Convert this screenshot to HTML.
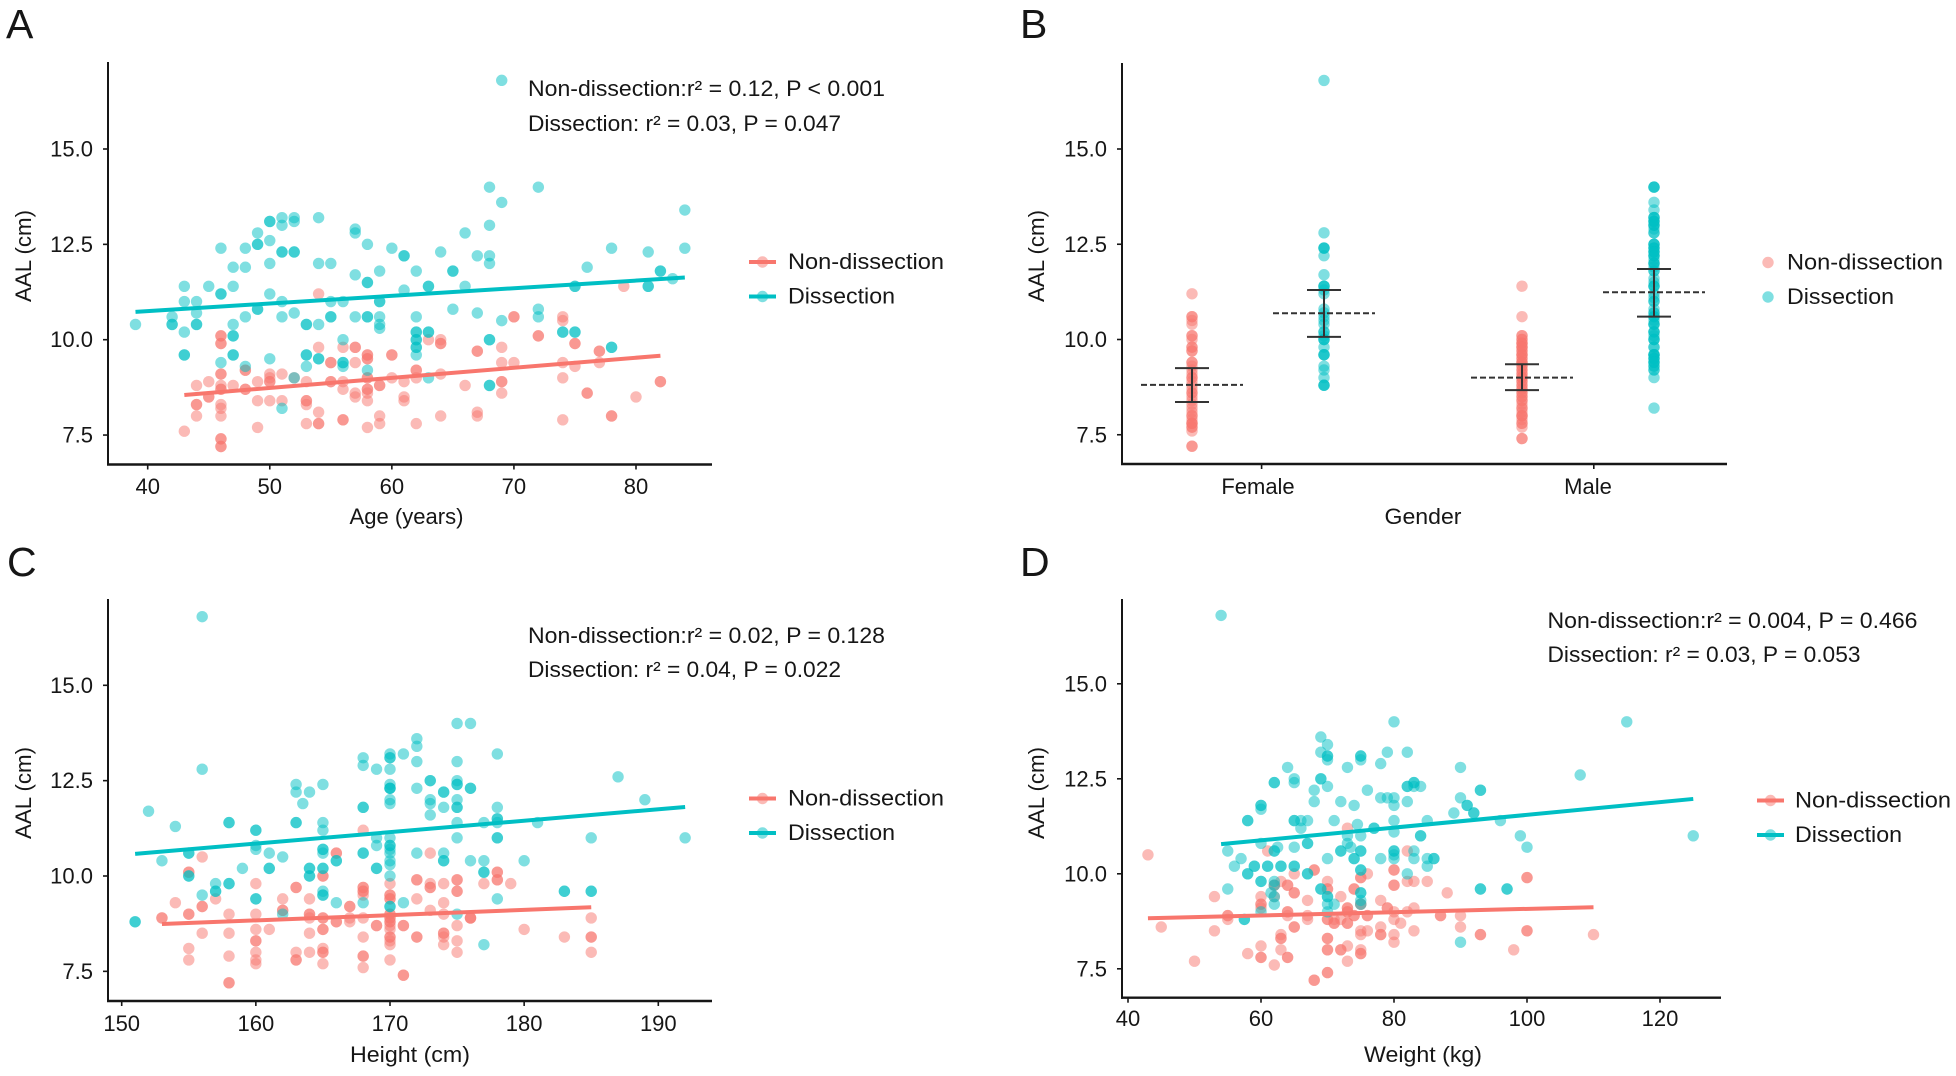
<!DOCTYPE html>
<html lang="en">
<head>
<meta charset="utf-8">
<title>AAL scatter panels</title>
<style>
html,body{margin:0;padding:0;background:#fff;}
svg{display:block;}
text{font-family:"Liberation Sans",sans-serif;fill:#161616;}
</style>
</head>
<body>
<svg id="figure" width="1956" height="1076" viewBox="0 0 1956 1076" xmlns="http://www.w3.org/2000/svg"></svg>
<script>
const seriesNames = ["Non-dissection", "Dissection"];
const yTickLabels = ["7.5", "10.0", "12.5", "15.0"];
const ageTicks = [40, 50, 60, 70, 80];
const heightTicks = [150, 160, 170, 180, 190];
const weightTicks = [40, 60, 80, 100, 120];
const genderCategories = ["Female", "Male"];

const ageNon = [[43,7.6],[44,8.8],[44,8.3],[44,8.3],[44,8],[45,8.9],[45,8.5],[45,8.5],[46,10.1],[46,10.1],[46,9.9],[46,9.9],[46,9.1],[46,9.1],[46,8.8],[46,8.7],[46,8.7],[46,8.3],[46,8.2],[46,8],[46,7.4],[46,7.4],[46,7.2],[46,7.2],[47,8.8],[48,9.2],[48,9.2],[48,8.7],[48,8.7],[49,8.9],[49,8.4],[49,7.7],[50,9.1],[50,9],[50,8.9],[50,8.9],[50,8.4],[51,9.1],[51,8.4],[52,9],[53,8.9],[53,8.4],[53,8.4],[53,8.3],[53,7.8],[54,11.2],[54,9.8],[54,8.1],[54,7.8],[54,7.8],[55,9.4],[55,9.4],[55,8.9],[55,8.9],[56,9.8],[56,8.9],[56,8.7],[56,7.9],[56,7.9],[57,9.8],[57,9.8],[57,9.4],[57,8.6],[57,8.5],[58,9.6],[58,9.6],[58,9.5],[58,9.5],[58,9],[58,9],[58,8.7],[58,8.7],[58,8.6],[58,8.4],[58,7.7],[59,8.8],[59,8.8],[59,8],[59,7.8],[60,9.6],[60,9.6],[60,9],[61,8.9],[61,8.5],[61,8.4],[62,9.2],[62,9.2],[62,9],[62,7.8],[63,10],[64,10],[64,9.9],[64,9.9],[64,9.1],[64,8],[66,8.8],[67,9.7],[67,9.7],[67,8.1],[67,8],[69,9.8],[69,9.4],[69,8.9],[69,8.9],[69,8.6],[70,10.6],[70,10.6],[70,9.4],[72,10.1],[72,10.1],[74,10.6],[74,10.5],[74,9.4],[74,9],[74,7.9],[75,9.9],[75,9.9],[75,9.3],[76,8.6],[76,8.6],[77,9.7],[77,9.7],[77,9.4],[78,8],[78,8],[79,11.4],[80,8.5],[82,8.9],[82,8.9]];
const ageDis = [[39,10.4],[42,10.6],[42,10.4],[42,10.4],[43,11.4],[43,11],[43,10.2],[43,9.6],[43,9.6],[44,11],[44,10.7],[44,10.4],[44,10.4],[45,11.4],[46,12.4],[46,11.2],[46,11.2],[46,9.4],[47,11.9],[47,11.4],[47,10.4],[47,10.1],[47,10.1],[47,9.6],[47,9.6],[48,12.4],[48,11.9],[48,10.6],[48,9.3],[49,12.8],[49,12.5],[49,12.5],[49,10.8],[49,10.8],[50,13.1],[50,13.1],[50,12.6],[50,12],[50,11.2],[50,9.5],[51,13.2],[51,13],[51,12.3],[51,12.3],[51,11],[51,10.6],[51,8.2],[52,13.2],[52,13.1],[52,12.3],[52,12.3],[52,10.7],[52,9],[53,10.4],[53,10.4],[53,9.6],[53,9.6],[53,9.3],[54,13.2],[54,12],[54,10.4],[54,9.5],[54,9.5],[55,12],[55,11],[55,10.6],[55,10.6],[56,11],[56,10],[56,9.4],[56,9.4],[56,9.3],[57,12.9],[57,12.8],[57,11.7],[57,10.6],[58,12.5],[58,11.5],[58,11.5],[58,10.6],[58,10.6],[58,9.2],[59,11.8],[59,11],[59,11],[59,10.6],[59,10.4],[59,10.3],[60,12.4],[61,12.2],[61,12.2],[61,11.3],[62,11.8],[62,10.6],[62,10.2],[62,10.2],[62,10],[62,10],[62,9.8],[62,9.8],[62,9.6],[63,11.4],[63,11.4],[63,10.2],[63,10.2],[63,9],[64,12.3],[65,11.8],[65,11.8],[65,10.8],[66,12.8],[66,11.4],[67,12.2],[67,10.7],[68,14],[68,13],[68,12.2],[68,12],[68,10],[68,10],[68,8.8],[68,8.8],[69,16.8],[69,13.6],[69,10.5],[72,14],[72,10.8],[72,10.6],[74,10.2],[74,10.2],[75,11.4],[75,11.4],[75,10.2],[75,10.2],[76,11.9],[78,12.4],[78,9.8],[78,9.8],[81,12.3],[81,11.4],[81,11.4],[82,11.8],[82,11.8],[83,11.6],[84,13.4],[84,12.4]];
const ageNonFit = [[43,8.55],[82,9.58]];
const ageDisFit = [[39,10.73],[84,11.63]];

const heightNon = [[153,8.9],[153,8.9],[154,9.3],[155,10.1],[155,10.1],[155,9],[155,9],[155,8.1],[155,7.8],[156,10.5],[156,9.2],[156,9.2],[156,8.5],[157,9.4],[158,9],[158,8.5],[158,7.9],[158,7.2],[158,7.2],[160,9.8],[160,9],[160,8.6],[160,8.3],[160,8.3],[160,8],[160,7.8],[160,7.7],[161,8.6],[162,9.4],[162,9.1],[162,9.1],[163,9.7],[163,9.7],[163,8],[163,7.8],[163,7.8],[164,9.4],[164,9],[164,9],[164,8.9],[164,8.5],[164,8],[165,10],[165,10],[165,8.9],[165,8.9],[165,8.6],[165,8.6],[165,8.1],[165,8],[165,8],[165,7.7],[166,10.6],[166,10.6],[166,8.8],[166,8.8],[167,9.2],[167,9.2],[167,8.9],[167,8.8],[168,11.2],[168,9.7],[168,9.7],[168,9.6],[168,9.6],[168,9.5],[168,8.9],[168,8.4],[168,7.9],[168,7.9],[168,7.6],[169,8.7],[169,8.7],[170,9.8],[170,9.5],[170,9.5],[170,9.4],[170,9.4],[170,9],[170,9],[170,8.9],[170,8.9],[170,8.8],[170,8.8],[170,8.7],[170,8.6],[170,8.4],[170,8.4],[170,8.3],[170,8.2],[170,7.8],[171,8.7],[171,8.7],[171,7.4],[171,7.4],[172,9.9],[172,9.9],[172,9.4],[172,8.4],[172,8.4],[173,10.6],[173,9.8],[173,9.7],[173,9.7],[173,9.1],[174,9.8],[174,9.3],[174,9],[174,8.5],[174,8.5],[174,8.4],[174,8.2],[175,9.9],[175,9.9],[175,9.6],[175,9.6],[175,8.7],[175,8.3],[175,8],[176,8.9],[176,8.9],[176,8.9],[177,9.8],[178,10.1],[178,10.1],[178,9.9],[178,9.9],[179,9.8],[180,8.6],[183,8.4],[185,8.9],[185,8.4],[185,8.4],[185,8]];
const heightDis = [[151,8.8],[151,8.8],[152,11.7],[153,10.4],[154,11.3],[155,10.6],[155,10.6],[155,10],[155,10],[156,16.8],[156,12.8],[156,9.5],[157,9.8],[157,9.6],[157,9.6],[158,11.4],[158,11.4],[158,9.8],[158,9.8],[159,10.2],[160,11.2],[160,11.2],[160,10.8],[160,10.7],[160,9.4],[160,9.4],[161,10.6],[161,10.2],[161,10.2],[162,10.5],[162,9],[163,12.4],[163,12.2],[163,11.4],[163,11.4],[163.5,11.9],[164,12.2],[164,10.2],[164,10.2],[164,10],[164,10],[165,12.4],[165,11.4],[165,11.2],[165,10.7],[165,10.7],[165,10.6],[165,10.2],[165,10.2],[165,9.6],[165,9.5],[165,9.5],[166,10.4],[166,10.4],[166,9.3],[168,13.1],[168,12.9],[168,11.8],[168,11.8],[168,10.6],[168,10.6],[168,9.3],[169,12.8],[169,11],[169,10.8],[169,10.2],[169,10.2],[170,13.2],[170,13.1],[170,13.1],[170,12.8],[170,12.4],[170,12.3],[170,12.3],[170,12.3],[170,12],[170,11.9],[170,11],[170,10.8],[170,10.8],[170,10.7],[170,10.6],[170,10.4],[170,10.3],[170,10],[170,9.2],[170,9.2],[171,13.2],[171,9.3],[172,13.6],[172,13.4],[172,13],[172,12.3],[172,10.6],[173,12.5],[173,12.5],[173,12],[173,11.9],[173,11.6],[174,12.2],[174,12.2],[174,11.8],[174,10.6],[174,10.4],[174,10.4],[175,14],[175,13],[175,12.5],[175,12.4],[175,12.4],[175,12],[175,11.8],[175,11.8],[175,11.4],[175,11],[175,9],[176,14],[176,12.3],[176,12.3],[176,10.4],[177,11.4],[177,10.4],[177,10.1],[177,10.1],[177,8.2],[178,13.2],[178,11.8],[178,11.5],[178,11.5],[178,11.4],[178,11],[178,11],[178,9.4],[180,10.4],[181,11.4],[183,9.6],[183,9.6],[185,11],[185,9.6],[185,9.6],[187,12.6],[189,12],[192,11]];
const heightNonFit = [[153,8.74],[185,9.18]];
const heightDisFit = [[151,10.58],[192,11.81]];

const weightNon = [[43,10.5],[45,8.6],[50,7.7],[53,9.4],[53,8.5],[55,8.9],[55,8.9],[55,8.8],[58,7.9],[60,9.4],[60,9.2],[60,9.2],[60,9.1],[60,8.1],[60,7.8],[60,7.8],[61,10.6],[62,7.6],[62,9.7],[62,9.7],[62,9.4],[63,9.8],[63,8.4],[63,8.3],[63,8.3],[63,8],[64,9.7],[64,9.7],[64,9],[64,9],[64,8.9],[64,7.8],[64,7.8],[65,10],[65,9.5],[65,9.5],[65,8.6],[65,8.6],[67,9.3],[67,8.9],[67,8.8],[68,10.1],[68,10.1],[68,7.2],[68,7.2],[70,9.8],[70,9.6],[70,9.6],[70,8.8],[70,8.8],[70,8.3],[70,8.3],[70,8],[70,8],[70,7.4],[70,7.4],[71,8.7],[71,8.7],[71,8.8],[72,9.4],[72,8.8],[72,8],[72,8],[73,11.2],[73,9.1],[73,9.1],[73,9],[73,9],[73,8.7],[73,8.7],[73,8.1],[73,7.7],[74,9.6],[74,9.6],[74,8.9],[74,8.9],[75,9.9],[75,9.9],[75,9.2],[75,9.2],[75,8.5],[75,8.4],[75,8],[75,7.9],[75,7.9],[76,10],[76,8.9],[76,8.9],[76,8.5],[78,9.3],[78,8.6],[78,8.4],[78,8.4],[79,9.1],[79,9.1],[80,10.1],[80,10.1],[80,9.7],[80,9.7],[80,9],[80,8.8],[80,8.4],[80,8.2],[81,8.7],[82,10.6],[82,9.8],[82,9],[83,9.8],[83,9.1],[83,8.5],[85,9.8],[87,8.9],[87,8.9],[88,9.5],[90,8.9],[90,8.6],[93,8.4],[93,8.4],[98,8],[100,9.9],[100,9.9],[100,8.5],[100,8.5],[110,8.4]];
const weightDis = [[54,16.8],[55,10.6],[55,9.6],[56,10.2],[57,10.4],[57.5,8.8],[57.5,8.8],[58,11.4],[58,11.4],[58,10],[58,10],[59,10.2],[59,10.2],[60,11.8],[60,11.8],[60,11.7],[60,10.8],[60,9.8],[60,9.8],[60,9],[61,10.2],[61,10.2],[62,12.4],[62,12.4],[62,10.6],[62,10.6],[62,9.8],[62,9.7],[61.5,9.5],[62,9.4],[62,9.2],[62.5,10.7],[63,10.2],[63,10.2],[64,12.8],[65,12.5],[65,12.4],[65,11.4],[65,11.4],[65,10.7],[65,10.2],[65,10.2],[66,11.4],[66,11.2],[67,11.4],[67,10.8],[67,10.8],[67,10],[67,10],[68,12.2],[68,11.9],[69,13.6],[69,13.2],[69,12.5],[69,12.5],[69,9.6],[69,9.6],[70,13.4],[70,13.1],[70,13.1],[70,13],[70,12.3],[70,10.4],[70,9.4],[70,9.4],[70,9.2],[70,9],[71,11.4],[71,9.2],[72,11.9],[72,10.6],[72,10.6],[73,12.8],[73,11],[73,10.8],[74,11.8],[73.5,10.7],[74,10.4],[74,10.4],[74.5,11.3],[75,13.1],[75,13.1],[75,13],[75,11],[75,10.6],[75,10.6],[75,10.1],[75,10.1],[75,9.5],[75,9.5],[75,9.3],[75,9.2],[76,12.2],[77,11.2],[77,11.2],[78,12.9],[78,12],[78,10.4],[79,13.2],[79,12],[80,14],[80,12],[80,11.8],[80,11.4],[80,11.1],[80,10.6],[80,10.6],[80,10.5],[80,10.4],[82,13.2],[82,12.3],[82,12.3],[82,11.9],[82,10],[83,12.4],[83,12.4],[83,12.3],[83,10.6],[83,10.4],[84,12.3],[84,11],[84,11],[85,11.4],[85,10.4],[85,10.2],[86,10.4],[86,10.4],[89,11.6],[90,12.8],[90,12],[90,8.2],[91,11.8],[91,11.8],[92,11.6],[92,11.6],[93,12.2],[93,12.2],[93,9.6],[93,9.6],[96,11.4],[97,9.6],[97,9.6],[99,11],[100,10.7],[108,12.6],[115,14],[125,11]];
const weightNonFit = [[43,8.83],[110,9.12]];
const weightDisFit = [[54,10.78],[125,11.97]];

const femaleNon = [11.2,10.6,10.6,10.5,10.4,10.1,10.1,10,9.8,9.8,9.7,9.7,9.4,9.4,9.3,9.2,9.1,9,9,8.9,8.8,8.7,8.6,8.6,8.5,8.4,8.3,8.2,8.1,8,8,7.9,7.8,7.8,7.8,7.7,7.7,7.6,7.2,7.2];
const femaleDis = [16.8,12.8,12.4,12.4,12.4,12.2,11.7,11.4,11.4,11.4,11.3,11.2,10.8,10.7,10.6,10.5,10.4,10.2,10.2,10.1,10,10,10,9.8,9.6,9.6,9.6,9.3,9.2,9,8.8,8.8,8.8];
const maleNon = [11.4,10.6,10.1,10.1,10,10,9.9,9.9,9.9,9.8,9.8,9.8,9.7,9.7,9.6,9.6,9.6,9.5,9.5,9.4,9.4,9.4,9.3,9.3,9.2,9.2,9.1,9.1,9,9,9,8.9,8.9,8.8,8.8,8.7,8.7,8.6,8.6,8.5,8.5,8.4,8.4,8.3,8.2,8.2,8.1,8,8,8,7.9,7.8,7.8,7.7,7.4,7.4];
const maleDis = [14,14,14,13.6,13.4,13.2,13.2,13.2,13.1,13.1,13.1,13,13,13,12.9,12.8,12.8,12.5,12.5,12.5,12.4,12.4,12.4,12.3,12.3,12.3,12.2,12.2,12.2,12.1,12,12,12,11.9,11.8,11.8,11.6,11.5,11.4,11.4,11.4,11.2,11.1,11,11,10.8,10.7,10.7,10.6,10.6,10.6,10.5,10.4,10.4,10.4,10.2,10.2,10.2,10.1,10,10,10,9.8,9.8,9.6,9.6,9.6,9.6,9.5,9.5,9.5,9.4,9.4,9.4,9.3,9.3,9.2,9.2,9,8.2];
const groupMeans = [8.81,10.69,9,11.24];
const groupUpper = [9.25,11.3,9.35,11.85];
const groupLower = [8.36,10.07,8.67,10.6];

const SVG_NS = "http://www.w3.org/2000/svg";
const root = document.getElementById("figure");
const RED = "#F8766D";
const TEAL = "#00BFC4";
const INK = "#161616";
const POINT_R = 5.7;

function make(tag, attrs, parent, txt) {
  const node = document.createElementNS(SVG_NS, tag);
  for (const key in attrs) node.setAttribute(key, attrs[key]);
  if (txt !== undefined) node.textContent = txt;
  parent.appendChild(node);
  return node;
}
function linear(d0, d1, r0, r1) {
  return function (v) { return r0 + (v - d0) * (r1 - r0) / (d1 - d0); };
}
function drawAxes(g, p, yScale) {
  const yAxis = make("line", {x1:p.left,x2:p.left,y1:p.top,y2:p.bottom+1,stroke:INK,"stroke-width":2}, g);
  
  
  const xAxis = make("line", {x1:p.left-1,x2:p.right,y1:p.bottom,y2:p.bottom,stroke:INK,"stroke-width":2.4}, g);
  
  
  yTickLabels.forEach(function (lab) {
    const y = yScale(parseFloat(lab));
    const tick = make("line", {x1:p.left-5,x2:p.left,y1:y,y2:y,stroke:INK,"stroke-width":1.6}, g);
    
    
    const label = make("text", {x:p.left-15,y:y+7.5,"text-anchor":"end","font-size":22}, g, lab);
    
    
  });
  const yTitle = make("text", {transform:"translate("+p.yTitleX+" "+p.yTitleY+") rotate(-90)","text-anchor":"middle","font-size":22,textLength:92,lengthAdjust:"spacingAndGlyphs"}, g, "AAL (cm)");
  
  
  const xTitle = make("text", {x:p.xTitleX,y:p.xTitleY,"text-anchor":"middle","font-size":22,textLength:p.xTitleW,lengthAdjust:"spacingAndGlyphs"}, g, p.xTitle);
  
  
  const letter = make("text", {x:p.letterX,y:p.letterY,"font-size":41}, g, p.letter);
  
  
}
function drawLegend(g, p) {
  seriesNames.forEach(function (name, i) {
    const color = i === 0 ? RED : TEAL;
    const y = p.legY + i * p.legGap;
    const entry = make("g", {}, g);
    
    
    if (p.legLine) {
      const key = make("line", {x1:p.legX,x2:p.legX+27,y1:y,y2:y,stroke:color,"stroke-width":4}, entry);
      
      
    }
    const dot = make("circle", {cx:p.legX+13.5,cy:y,r:POINT_R,fill:color,"fill-opacity":0.5}, entry);
    
    
    const label = make("text", {x:p.legTextX,y:y+p.legBase,"font-size":22,textLength:i === 0 ? 156 : 107,lengthAdjust:"spacingAndGlyphs"}, entry, name);
    
    
  });
}
function drawScatterPanel(p) {
  const g = make("g", {}, root);
  
  
  const xScale = linear(p.xd0, p.xd1, p.xr0, p.xr1);
  const yScale = linear(10, 15, p.y10, p.y15);
  p.xTicks.forEach(function (v) {
    const x = xScale(v);
    const tick = make("line", {x1:x,x2:x,y1:p.bottom,y2:p.bottom+5,stroke:INK,"stroke-width":1.6}, g);
    
    
    const label = make("text", {x:x,y:p.xLabelY,"text-anchor":"middle","font-size":22}, g, String(v));
    
    
  });
  drawAxes(g, p, yScale);
  [[p.non, RED, "point-non-dissection"], [p.dis, TEAL, "point-dissection"]].forEach(function (s) {
    s[0].forEach(function (pt) {
      const c = make("circle", {cx:xScale(pt[0]),cy:yScale(pt[1]),r:POINT_R,fill:s[1],"fill-opacity":0.5}, g);
      
      
    });
  });
  [[p.nonFit, RED, "fit-line-non-dissection"], [p.disFit, TEAL, "fit-line-dissection"]].forEach(function (s) {
    const fit = make("line", {x1:xScale(s[0][0][0]),y1:yScale(s[0][0][1]),x2:xScale(s[0][1][0]),y2:yScale(s[0][1][1]),stroke:s[1],"stroke-width":4}, g);
    
    
  });
  p.notes.forEach(function (n) {
    const t = make("text", {x:p.noteX,y:n[1],"font-size":22,textLength:n[2],lengthAdjust:"spacingAndGlyphs"}, g, n[0]);
    
    
  });
  drawLegend(g, p);
}
function drawGenderPanel(p) {
  const g = make("g", {}, root);
  
  
  const yScale = linear(10, 15, p.y10, p.y15);
  const catX = linear(0, 1, 1258, 1588);
  genderCategories.forEach(function (cat, i) {
    const tx = catX(i) + 3.6 + i * 2.2;
    const tick = make("line", {x1:tx,x2:tx,y1:p.bottom,y2:p.bottom+5,stroke:INK,"stroke-width":1.6}, g);
    
    
    const label = make("text", {x:catX(i),y:p.xLabelY,"text-anchor":"middle","font-size":22}, g, cat);
    
    
  });
  drawAxes(g, p, yScale);
  const groups = [femaleNon, femaleDis, maleNon, maleDis];
  groups.forEach(function (values, i) {
    const cx = catX(Math.floor(i / 2)) + (i % 2 === 0 ? -66 : 66);
    values.forEach(function (v) {
      const c = make("circle", {cx:cx,cy:yScale(v),r:POINT_R,fill:i % 2 === 0 ? RED : TEAL,"fill-opacity":0.5}, g);
      
      
    });
  });
  groups.forEach(function (values, i) {
    const cx = catX(Math.floor(i / 2)) + (i % 2 === 0 ? -66 : 66);
    const up = yScale(groupUpper[i]);
    const low = yScale(groupLower[i]);
    const mean = yScale(groupMeans[i]);
    const stem = make("line", {x1:cx,x2:cx,y1:up,y2:low,stroke:"#333","stroke-width":2}, g);
    
    
    const capTop = make("line", {x1:cx-17,x2:cx+17,y1:up,y2:up,stroke:"#333","stroke-width":2}, g);
    
    
    const capLow = make("line", {x1:cx-17,x2:cx+17,y1:low,y2:low,stroke:"#333","stroke-width":2}, g);
    
    
    const meanLine = make("line", {x1:cx-51,x2:cx+51,y1:mean,y2:mean,stroke:"#333","stroke-width":2,"stroke-dasharray":"6 3"}, g);
    
    
  });
  drawLegend(g, p);
}

drawScatterPanel({name:"panel-a-age",letter:"A",letterX:6,letterY:38,left:108,right:712,top:62,bottom:464.5,xd0:40,xd1:80,xr0:147.7,xr1:636,y10:339.7,y15:149,xTicks:ageTicks,xLabelY:494,xTitle:"Age (years)",xTitleX:406.5,xTitleY:524,xTitleW:114,yTitleX:31,yTitleY:256,non:ageNon,dis:ageDis,nonFit:ageNonFit,disFit:ageDisFit,noteX:528,notes:[["Non-dissection:r² = 0.12, P < 0.001",96,357],["Dissection: r² = 0.03, P = 0.047",131,313]],legX:749,legY:262,legGap:34.5,legLine:true,legTextX:788,legBase:7});
drawGenderPanel({name:"panel-b-gender",letter:"B",letterX:1020,letterY:38,left:1122,right:1727,top:63,bottom:464,y10:339.5,y15:149,xLabelY:494,xTitle:"Gender",xTitleX:1423,xTitleY:524,xTitleW:77,yTitleX:1044,yTitleY:256,legX:1754.5,legY:262.5,legGap:34.5,legLine:false,legTextX:1787,legBase:7});
drawScatterPanel({name:"panel-c-height",letter:"C",letterX:7,letterY:576,left:108,right:712,top:599,bottom:1001,xd0:150,xd1:190,xr0:121.7,xr1:658.3,y10:876,y15:685.3,xTicks:heightTicks,xLabelY:1031,xTitle:"Height (cm)",xTitleX:410,xTitleY:1062,xTitleW:120,yTitleX:31,yTitleY:793,non:heightNon,dis:heightDis,nonFit:heightNonFit,disFit:heightDisFit,noteX:528,notes:[["Non-dissection:r² = 0.02, P = 0.128",643,357],["Dissection: r² = 0.04, P = 0.022",677,313]],legX:749,legY:798.5,legGap:34.5,legLine:true,legTextX:788,legBase:7});
drawScatterPanel({name:"panel-d-weight",letter:"D",letterX:1020,letterY:576,left:1122,right:1721,top:599,bottom:997.7,xd0:40,xd1:120,xr0:1128,xr1:1660,y10:873.8,y15:683.8,xTicks:weightTicks,xLabelY:1026,xTitle:"Weight (kg)",xTitleX:1423,xTitleY:1062,xTitleW:118,yTitleX:1044,yTitleY:793,non:weightNon,dis:weightDis,nonFit:weightNonFit,disFit:weightDisFit,noteX:1547.5,notes:[["Non-dissection:r² = 0.004, P = 0.466",628,370],["Dissection: r² = 0.03, P = 0.053",662,313]],legX:1757,legY:800.5,legGap:34.5,legLine:true,legTextX:1795,legBase:7});
</script>
</body>
</html>
